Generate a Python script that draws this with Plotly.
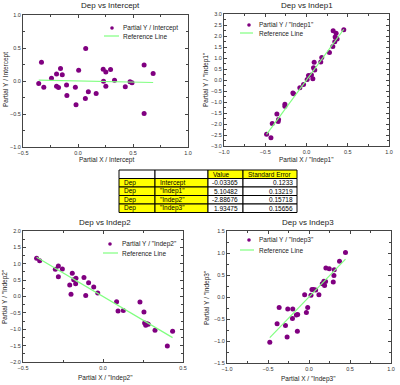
import plotly.graph_objects as go

# ---------------- data ----------------
x_int = [-0.357, -0.332, -0.311, -0.241, -0.195, -0.195, -0.177, -0.159, -0.143, -0.104,
         -0.101, -0.024, -0.018, 0.006, 0.067, 0.070, 0.094, 0.165, 0.229, 0.232,
         0.253, 0.253, 0.296, 0.332, 0.430, 0.473, 0.491, 0.601, 0.601, 0.683]
y_int = [-0.036, 0.284, -0.096, 0.041, 0.107, -0.081, -0.100, 0.188, 0.096, -0.061,
         -0.218, -0.096, -0.360, 0.162, -0.264, 0.492, -0.162, -0.188, 0.178, -0.005,
         0.137, -0.081, 0.173, 0.010, -0.086, -0.010, -0.025, -0.492, 0.244, 0.112]

x_ind1 = [-0.484, -0.431, -0.415, -0.359, -0.343, -0.339, -0.262, -0.262, -0.165, -0.157,
          -0.081, -0.036, 0.008, 0.024, 0.060, 0.077, 0.085, 0.093, 0.100, 0.173,
          0.185, 0.278, 0.319, 0.323, 0.343, 0.347, 0.359, 0.371, 0.452]
y_ind1 = [-2.47, -2.63, -1.98, -1.55, -1.89, -1.80, -1.10, -1.19, -0.59, -0.62,
          -0.35, -0.20, 0.02, 0.21, 0.23, 0.06, 0.56, 0.81, 0.46, 0.82,
          1.02, 1.25, 1.52, 2.24, 1.74, 1.96, 2.12, 1.86, 2.28]

x_ind2 = [-0.415, -0.396, -0.298, -0.279, -0.279, -0.254, -0.208, -0.200, -0.192, -0.183,
          -0.171, -0.169, -0.119, -0.108, -0.090, -0.058, -0.033, 0.085, 0.094, 0.127,
          0.231, 0.256, 0.260, 0.267, 0.275, 0.283, 0.325, 0.402, 0.435]
y_ind2 = [1.17, 1.09, 0.83, 0.93, 0.60, 0.84, 0.35, 0.07, 0.71, 0.51,
          0.39, 0.56, 0.58, 0.03, 0.42, 0.29, 0.11, -0.16, -0.44, -0.43,
          -0.17, -0.47, -0.81, -0.88, -0.83, -0.85, -1.03, -1.51, -1.06]

x_ind3 = [-0.478, -0.389, -0.364, -0.287, -0.267, -0.259, -0.202, -0.198, -0.154, -0.138,
          -0.142, -0.053, -0.032, -0.016, 0.024, 0.036, 0.057, 0.081, 0.121, 0.162,
          0.182, 0.190, 0.202, 0.206, 0.247, 0.296, 0.304, 0.308, 0.372, 0.445]
y_ind3 = [-1.03, -0.61, -0.24, -0.65, -0.91, -0.27, -0.49, -0.27, -0.41, -0.40,
          -0.78, 0.05, -0.35, -0.24, 0.04, 0.17, 0.17, 0.16, 0.05, 0.30,
          0.36, 0.26, 0.35, 0.66, 0.64, 0.34, 0.49, 0.62, 0.81, 1.01]

dep_names = ["Dep", "Dep", "Dep", "Dep"]
param_names = ["Intercept", '"Indep1"', '"Indep2"', '"Indep3"']
coef_values = [-0.03365, 5.10482, -2.88676, 1.93475]
std_errors = [0.1233, 0.13219, 0.15718, 0.15656]
table_header = ["", "", "Value", "Standard Error"]

panel_titles = ["Dep vs Intercept", "Dep vs Indep1", "Dep vs Indep2", "Dep vs Indep3"]
x_titles = ["Partial X / Intercept", 'Partial X / "Indep1"', 'Partial X / "Indep2"', 'Partial X / "Indep3"']
y_titles = ["Partial Y / Intercept", 'Partial Y / "Indep1"', 'Partial Y / "Indep2"', 'Partial Y / "Indep3"']
legend_labels = ["Partial Y / Intercept", 'Partial Y / "Indep1"', 'Partial Y / "Indep2"', 'Partial Y / "Indep3"']
ref_label = "Reference Line"

x_ranges = [[-0.5, 1.0], [-1.0, 1.0], [-0.5, 0.5], [-1.0, 1.0]]
y_ranges = [[-1.0, 1.0], [-3.0, 3.0], [-2.0, 2.0], [-1.5, 1.5]]

# ---------------- layout helpers ----------------
W, H = 400, 385
def px(x):
    return x / W
def py(y):
    return 1 - y / H

FONT = "Liberation Sans, Arial, sans-serif"
PURPLE = "#800080"
GREEN = "#80FF80"
AXC = "#444444"
TXT = "#222222"

# pixel boxes of the plot areas: (left, right, top, bottom)
boxes = [(23, 188, 15, 147), (224, 389, 14, 146), (23, 183, 231, 362), (227, 391, 231, 363)]
title_pos = [(110, 5), (307, 5), (105, 222), (308, 222)]
xt_pos = [(106, 160), (306, 160), (105, 378), (308, 379)]
yt_pos = [(6, 80), (206, 80), (5, 297), (207, 297)]
# legend: marker (x,y), line (x0,x1,y), text x
leg = [((112, 28), (104, 119, 36), 121),
       ((249, 25), (240, 253, 33), 257),
       ((110, 244), (103, 118, 253), 120),
       ((249, 240), (240, 254, 250), 257)]

xs = [x_int, x_ind1, x_ind2, x_ind3]
ys = [y_int, y_ind1, y_ind2, y_ind3]

fig = go.Figure()
annotations = []
shapes = []
layout_axes = {}

def text_ann(text, x, y, size, xanchor="center", angle=0, color=TXT):
    return dict(text=text, x=px(x), y=py(y), xref="paper", yref="paper", showarrow=False,
                xanchor=xanchor, yanchor="middle", textangle=angle,
                font=dict(family=FONT, size=size, color=color))

for i in range(4):
    sx = "" if i == 0 else str(i + 1)
    xa, ya = "x" + sx, "y" + sx
    fig.add_trace(go.Scatter(x=xs[i], y=ys[i], mode="markers", xaxis=xa, yaxis=ya,
                             marker=dict(color=PURPLE, size=5), showlegend=False))
    x0, x1 = min(xs[i]), max(xs[i])
    fig.add_trace(go.Scatter(x=[x0, x1], y=[coef_values[i] * x0, coef_values[i] * x1],
                             mode="lines", xaxis=xa, yaxis=ya,
                             line=dict(color=GREEN, width=1.2), showlegend=False))
    l, r, t, b = boxes[i]
    common = dict(showgrid=False, zeroline=False, showline=True, linecolor=AXC, linewidth=1,
                  mirror="allticks", ticks="inside", ticklen=3, tickcolor=AXC, dtick=0.5,
                  tickformat=".1f", tickfont=dict(family=FONT, size=5.5, color="#333"),
                  automargin=False, fixedrange=True,
                  minor=dict(ticks="inside", ticklen=2, tickcolor=AXC, dtick=0.25))
    layout_axes["xaxis" + sx] = dict(domain=[px(l), px(r)], range=x_ranges[i], anchor=ya, **common)
    layout_axes["yaxis" + sx] = dict(domain=[py(b), py(t)], range=y_ranges[i], anchor=xa, **common)

    annotations.append(text_ann(panel_titles[i], *title_pos[i], 8))
    annotations.append(text_ann(x_titles[i], *xt_pos[i], 6.5))
    annotations.append(text_ann(y_titles[i], *yt_pos[i], 6.5, angle=-90))

    (mx, my), (lx0, lx1, ly), tx = leg[i]
    shapes.append(dict(type="circle", xref="paper", yref="paper",
                       x0=px(mx - 1.8), x1=px(mx + 1.8), y0=py(my + 1.8), y1=py(my - 1.8),
                       fillcolor=PURPLE, line=dict(width=0)))
    shapes.append(dict(type="line", xref="paper", yref="paper",
                       x0=px(lx0), x1=px(lx1), y0=py(ly), y1=py(ly),
                       line=dict(color=GREEN, width=1.2)))
    annotations.append(text_ann(legend_labels[i], tx, my, 6.5, xanchor="left"))
    annotations.append(text_ann(ref_label, tx, ly, 6.5, xanchor="left"))

# ---------------- table (drawn as cells) ----------------
col_edges = [119, 155, 208, 243, 297]
row_top, row_h = 170, 8.5
columns = [dep_names, param_names, [str(v) for v in coef_values], [str(v) for v in std_errors]]
header_fill = ["white", "white", "yellow", "yellow"]
body_fill = ["yellow", "yellow", "white", "white"]
body_align = ["left", "left", "right", "right"]
n_rows = len(dep_names) + 1
for r in range(n_rows):
    y0 = row_top + r * row_h
    y1 = y0 + row_h
    for c in range(4):
        x0, x1 = col_edges[c], col_edges[c + 1]
        fill = header_fill[c] if r == 0 else body_fill[c]
        shapes.append(dict(type="rect", xref="paper", yref="paper",
                           x0=px(x0), x1=px(x1), y0=py(y1), y1=py(y0),
                           fillcolor=fill, line=dict(color="black", width=1), layer="above"))
        txt = table_header[c] if r == 0 else columns[c][r - 1]
        if not txt:
            continue
        align = "left" if r == 0 else body_align[c]
        if align == "left":
            annotations.append(text_ann(txt, x0 + 2.5, (y0 + y1) / 2, 6.5, xanchor="left", color="black"))
        else:
            annotations.append(text_ann(txt, x1 - 2.5, (y0 + y1) / 2, 6.5, xanchor="right", color="black"))

fig.update_layout(width=W, height=H, margin=dict(l=0, r=0, t=0, b=0),
                  paper_bgcolor="white", plot_bgcolor="white", showlegend=False,
                  annotations=annotations, shapes=shapes, **layout_axes)

fig.write_html("out.html", config={"displayModeBar": False, "staticPlot": True},
               post_script="document.body.style.margin='0';document.body.style.overflow='hidden';")
